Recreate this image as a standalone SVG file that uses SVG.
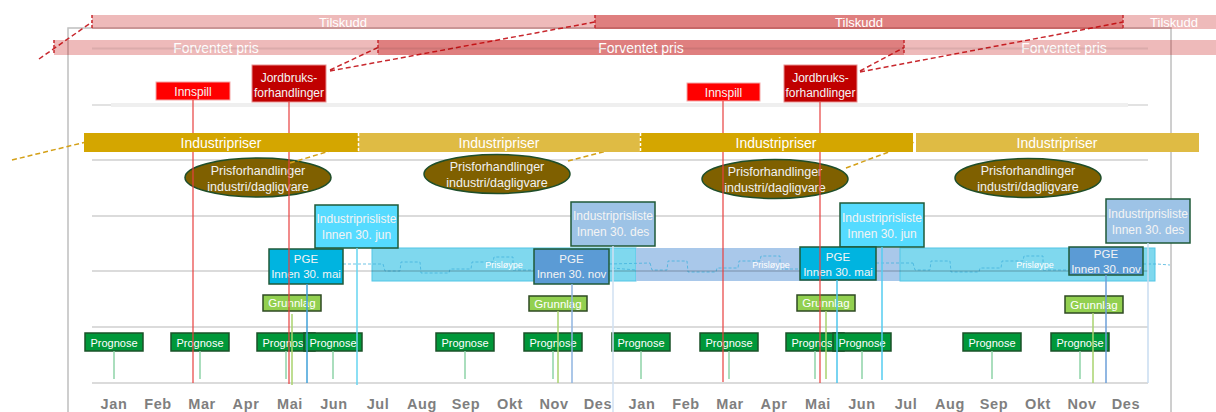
<svg xmlns="http://www.w3.org/2000/svg" width="1216" height="412" viewBox="0 0 1216 412">
<defs>
<style>
text{font-family:"Liberation Sans",Arial,sans-serif;text-anchor:middle}
.bar-l{fill:#c00000;fill-opacity:0.27}
.bar-d{fill:#c00000;fill-opacity:0.5}
.bt{fill:#fff;font-size:13px}
.bt14{fill:#fff;font-size:14px}
.ip-d{fill:#d4a600}
.ip-l{fill:#dfbb44}
.tick-r{stroke:#c8282e;stroke-width:1.5;stroke-dasharray:3,2;fill:none}
.tick-w{stroke:#fff;stroke-width:1.5;stroke-dasharray:3,2;fill:none}
.grid{stroke:#000;stroke-opacity:0.14;stroke-width:2;fill:none}
.ell{fill:#7f6000;stroke:#1f4e29;stroke-width:1.5}
.et{fill:#f2f2f2;font-size:12.5px}
.ipl-c{fill:#55dbff;stroke:#1f5a38;stroke-width:1.5}
.ipl-b{fill:#9dc3e6;stroke:#1f5a38;stroke-width:1.5}
.pge-c{fill:#00b4e0;stroke:#1f5a38;stroke-width:1.5}
.pge-b{fill:#5b9bd5;stroke:#1f5a38;stroke-width:1.5}
.wt{fill:#f4f4f4;font-size:12px}
.wt11{fill:#f4f4f4;font-size:11.5px}
.band-c{fill:#7fd8ee;stroke:#52c6e6;stroke-width:1}
.band-b{fill:#a9c8ea}
.loop{fill:none;stroke:#3fb0dc;stroke-opacity:0.75;stroke-width:1;stroke-dasharray:3,2}
.lt{fill:#fff;font-size:9px}
.grn{fill:#92d050;stroke:#2e4a22;stroke-width:1.5}
.prg{fill:#00983a;stroke:#1a5228;stroke-width:1.5}
.gt{fill:#fff;font-size:11.5px}
.pt{fill:#fff;font-size:11px}
.dash-r{stroke:#c8282e;stroke-width:1.5;stroke-dasharray:5,3;fill:none}
.dash-g{stroke:#d4a017;stroke-width:1.5;stroke-dasharray:5,3;fill:none}
.vr{stroke:#e8403f;stroke-width:1.2}
.vg{stroke:#a9d46f;stroke-width:1.5}
.vp{stroke:#8fd4a8;stroke-width:1.5}
.mon{fill:#7f7f7f;font-size:14.5px;font-weight:bold;letter-spacing:0.6px}
</style>
<path id="step" d="M0,0 L2,7 L17,7 L18,-2 L37,-2 L38,9 L66,9 L67,5 L88,5 L89,-2 L110,-2 L111,-7 L130,-7 L130,0"/>
</defs>

<rect x="68" y="28" width="1103" height="400" fill="none" stroke="#bfbfbf" stroke-width="1.5"/>

<g id="prislope-1">
<rect class="band-c" x="372" y="248" width="264" height="33"/>
<path class="loop" d="M343,264 L383,264"/>
<use href="#step" class="loop" x="383" y="264"/>
<path class="loop" d="M513,270 L534,270"/>
<text class="lt" x="504" y="268">Prisløype</text>
</g>
<g id="prislope-2">
<rect class="band-b" x="636" y="248" width="264" height="33"/>
<path class="loop" d="M609,264 L650,263 M612,268 L636,270"/>
<use href="#step" class="loop" x="650" y="263"/>
<path class="loop" d="M780,269 L800,269"/>
<text class="lt" x="771" y="268">Prisløype</text>
</g>
<g id="prislope-3">
<rect class="band-c" x="900" y="248" width="255" height="33"/>
<path class="loop" d="M876,263 L913,263"/>
<use href="#step" class="loop" x="913" y="263"/>
<path class="loop" d="M1043,270 L1069,270 M1143,264 L1157,264 L1170,265"/>
<text class="lt" x="1035" y="268">Prisløype</text>
</g>

<g id="grid">
<path class="grid" d="M92,160 H1148 M92,216 H1148 M92,271 H1148 M92,327 H1148 M92,383 H1148"/>
<path d="M92,105 H1148" stroke="#d9d9d9" stroke-width="1.5"/>
<path d="M111,105 H1128" stroke="#efefef" stroke-width="4"/>
</g>

<g id="prisforhandlinger-1"><ellipse class="ell" cx="258" cy="177.5" rx="73" ry="19.5"/><text class="et" x="258" y="174.5">Prisforhandlinger</text><text class="et" x="258" y="190.5">industri/dagligvare</text></g>
<g id="prisforhandlinger-2"><ellipse class="ell" cx="497" cy="174" rx="73" ry="19.5"/><text class="et" x="497" y="171">Prisforhandlinger</text><text class="et" x="497" y="187">industri/dagligvare</text></g>
<g id="prisforhandlinger-3"><ellipse class="ell" cx="775" cy="179" rx="73" ry="19.5"/><text class="et" x="775" y="176">Prisforhandlinger</text><text class="et" x="775" y="192">industri/dagligvare</text></g>
<g id="prisforhandlinger-4"><ellipse class="ell" cx="1028" cy="178" rx="73" ry="19.5"/><text class="et" x="1028" y="175">Prisforhandlinger</text><text class="et" x="1028" y="191">industri/dagligvare</text></g>

<g id="industriprisliste-1"><rect class="ipl-c" x="315" y="205" width="83" height="43"/><text class="wt" x="356.5" y="223">Industriprisliste</text><text class="wt" x="356.5" y="239">Innen 30. jun</text></g>
<g id="industriprisliste-2"><rect class="ipl-b" x="571" y="202" width="84" height="44"/><text class="wt" x="613" y="220">Industriprisliste</text><text class="wt" x="613" y="236">Innen 30. des</text></g>
<g id="industriprisliste-3"><rect class="ipl-c" x="840" y="203" width="84" height="44"/><text class="wt" x="882" y="222">Industriprisliste</text><text class="wt" x="882" y="238">Innen 30. jun</text></g>
<g id="industriprisliste-4"><rect class="ipl-b" x="1106" y="199" width="84" height="44"/><text class="wt" x="1148" y="218">Industriprisliste</text><text class="wt" x="1148" y="234">Innen 30. des</text></g>

<g id="pge-1"><rect class="pge-c" x="269" y="249" width="74" height="35"/><text class="wt11" x="306" y="263">PGE</text><text class="wt11" x="306" y="278">Innen 30. mai</text></g>
<g id="pge-2"><rect class="pge-b" x="534" y="249" width="75" height="35"/><text class="wt11" x="571.5" y="263">PGE</text><text class="wt11" x="571.5" y="278">Innen 30. nov</text></g>
<g id="pge-3"><rect class="pge-c" x="800" y="247" width="76" height="33"/><text class="wt11" x="838" y="261">PGE</text><text class="wt11" x="838" y="276">Innen 30. mai</text></g>
<g id="pge-4"><rect class="pge-b" x="1069" y="247" width="74" height="28"/><text class="wt11" x="1106" y="258">PGE</text><text class="wt11" x="1106" y="273">Innen 30. nov</text></g>

<g id="grunnlag-1"><rect class="grn" x="263" y="295" width="58" height="16"/><text class="gt" x="292" y="307">Grunnlag</text></g>
<g id="grunnlag-2"><rect class="grn" x="529" y="296" width="58" height="15"/><text class="gt" x="558" y="307.5">Grunnlag</text></g>
<g id="grunnlag-3"><rect class="grn" x="797" y="295" width="58" height="16"/><text class="gt" x="826" y="307">Grunnlag</text></g>
<g id="grunnlag-4"><rect class="grn" x="1065" y="296" width="58" height="17"/><text class="gt" x="1094" y="308.5">Grunnlag</text></g>

<g id="prognose-1"><rect class="prg" x="85" y="333" width="58" height="18"/><text class="pt" x="114" y="346.5">Prognose</text></g>
<g id="prognose-2"><rect class="prg" x="171" y="333" width="58" height="18"/><text class="pt" x="200" y="346.5">Prognose</text></g>
<g id="prognose-3"><rect class="prg" x="257" y="333" width="58" height="18"/><text class="pt" x="286" y="346.5">Prognose</text></g>
<g id="prognose-4"><rect class="prg" x="304" y="333" width="58" height="18"/><text class="pt" x="333" y="346.5">Prognose</text></g>
<g id="prognose-5"><rect class="prg" x="436" y="333" width="58" height="18"/><text class="pt" x="465" y="346.5">Prognose</text></g>
<g id="prognose-6"><rect class="prg" x="524" y="333" width="58" height="18"/><text class="pt" x="553" y="346.5">Prognose</text></g>
<g id="prognose-7"><rect class="prg" x="612" y="333" width="58" height="18"/><text class="pt" x="641" y="346.5">Prognose</text></g>
<g id="prognose-8"><rect class="prg" x="700" y="333" width="58" height="18"/><text class="pt" x="729" y="346.5">Prognose</text></g>
<g id="prognose-9"><rect class="prg" x="786" y="333" width="58" height="18"/><text class="pt" x="815" y="346.5">Prognose</text></g>
<g id="prognose-10"><rect class="prg" x="833" y="333" width="58" height="18"/><text class="pt" x="862" y="346.5">Prognose</text></g>
<g id="prognose-11"><rect class="prg" x="963" y="333" width="58" height="18"/><text class="pt" x="992" y="346.5">Prognose</text></g>
<g id="prognose-12"><rect class="prg" x="1051" y="333" width="58" height="18"/><text class="pt" x="1080" y="346.5">Prognose</text></g>

<g id="innspill-1"><rect x="156" y="82" width="74" height="18" fill="#ff0000" stroke="#f4a8a8" stroke-width="1"/><text class="wt" x="193" y="95.5">Innspill</text></g>
<g id="jordbruk-1"><rect x="252" y="65" width="74" height="37" fill="#c00000" stroke="#e89090" stroke-width="1"/><text class="wt" x="289" y="82">Jordbruks-</text><text class="wt" x="289" y="96.5">forhandlinger</text></g>
<g id="innspill-2"><rect x="687" y="83" width="73" height="18" fill="#ff0000" stroke="#f4a8a8" stroke-width="1"/><text class="wt" x="723.5" y="96.5">Innspill</text></g>
<g id="jordbruk-2"><rect x="784" y="65" width="73" height="37" fill="#c00000" stroke="#e89090" stroke-width="1"/><text class="wt" x="820.5" y="82">Jordbruks-</text><text class="wt" x="820.5" y="96.5">forhandlinger</text></g>

<g id="connectors">
<path class="dash-r" d="M39,59 L92,22 M330,70 L378,47.5 M330,71 L595,22 M860,71 L904,47.5 M860,72 L1123,22"/>
<path class="dash-g" d="M12,160 L84,142.5 M290,163 L358,142.5 M568,161 L640,142.5 M846,168 L914,142.5"/>
<path class="vr" d="M193,100 V133 M193,152 V383 M289,102 V133 M289,152 V384 M723,101 V133 M723,152 V382 M820,102 V133 M820,152 V383"/>
<path d="M307,284 V383" stroke="#3fa0d8" stroke-width="1.5"/>
<path d="M357,248 V385" stroke="#66d4f0" stroke-width="1.5"/>
<path d="M572,284 V383" stroke="#8fb5e0" stroke-width="1.5"/>
<path d="M613,246 V412" stroke="#d0e0f2" stroke-width="1.5"/>
<path d="M837,280 V383" stroke="#4cc6ec" stroke-width="1.5"/>
<path d="M882,247 V380" stroke="#55cdf0" stroke-width="1.5"/>
<path d="M1106,275 V383" stroke="#6d9fd8" stroke-width="1.5"/>
<path d="M1148,243 V383" stroke="#c8dcf0" stroke-width="1.5"/>
<path class="vg" d="M292,314 V385 M558,311 V383 M826,311 V379 M1093,313 V383"/>
<path class="vp" d="M114,351 V379 M200,351 V379 M286,351 V379 M333,351 V379 M465,351 V379 M553,351 V379 M641,351 V379 M729,351 V379 M815,351 V379 M862,351 V379 M992,351 V379 M1080,351 V379"/>
</g>

<g id="tilskudd-1"><rect class="bar-l" x="92" y="15" width="503" height="14"/><path class="tick-r" d="M92,15 V29"/><text class="bt" x="343" y="26.5">Tilskudd</text></g>
<g id="tilskudd-2"><rect class="bar-d" x="595" y="15" width="528" height="14"/><path class="tick-r" d="M595,15 V29"/><text class="bt" x="859" y="26.5">Tilskudd</text></g>
<g id="tilskudd-3"><rect class="bar-l" x="1123" y="15" width="100" height="14"/><path class="tick-r" d="M1123,15 V29"/><text class="bt" x="1174" y="26.5">Tilskudd</text></g>

<g id="forventet-1"><rect class="bar-l" x="54" y="40" width="324" height="15"/><path class="tick-r" d="M54,40 V55"/><text class="bt14" x="216" y="52.5">Forventet pris</text></g>
<g id="forventet-2"><rect class="bar-d" x="378" y="40" width="526" height="15"/><path class="tick-r" d="M378,40 V55"/><text class="bt14" x="641" y="52.5">Forventet pris</text></g>
<g id="forventet-3"><rect class="bar-l" x="904" y="40" width="320" height="15"/><path class="tick-r" d="M904,40 V55"/><text class="bt14" x="1064" y="52.5">Forventet pris</text></g>
<path d="M92,48.5 H1148" stroke="#000" stroke-opacity="0.08" stroke-width="2"/>

<g id="industripriser-1"><rect class="ip-d" x="84" y="133" width="274" height="19"/><text class="bt14" x="221" y="147.5">Industripriser</text></g>
<g id="industripriser-2"><rect class="ip-l" x="358" y="133" width="282" height="19"/><path class="tick-w" d="M358.5,133 V152"/><text class="bt14" x="499" y="147.5">Industripriser</text></g>
<g id="industripriser-3"><rect class="ip-d" x="640" y="133" width="273" height="19"/><path class="tick-w" d="M640.5,133 V152"/><text class="bt14" x="776" y="147.5">Industripriser</text></g>
<g id="industripriser-4"><rect class="ip-l" x="916" y="133" width="283" height="19"/><path class="tick-w" d="M914.5,133 V152"/><text class="bt14" x="1057" y="147.5">Industripriser</text></g>

<g id="months">
<text class="mon" x="114" y="409">Jan</text><text class="mon" x="158" y="409">Feb</text><text class="mon" x="202" y="409">Mar</text><text class="mon" x="246" y="409">Apr</text><text class="mon" x="290" y="409">Mai</text><text class="mon" x="334" y="409">Jun</text><text class="mon" x="378" y="409">Jul</text><text class="mon" x="422" y="409">Aug</text><text class="mon" x="466" y="409">Sep</text><text class="mon" x="510" y="409">Okt</text><text class="mon" x="554" y="409">Nov</text><text class="mon" x="598" y="409">Des</text>
<text class="mon" x="642" y="409">Jan</text><text class="mon" x="686" y="409">Feb</text><text class="mon" x="730" y="409">Mar</text><text class="mon" x="774" y="409">Apr</text><text class="mon" x="818" y="409">Mai</text><text class="mon" x="862" y="409">Jun</text><text class="mon" x="906" y="409">Jul</text><text class="mon" x="950" y="409">Aug</text><text class="mon" x="994" y="409">Sep</text><text class="mon" x="1038" y="409">Okt</text><text class="mon" x="1082" y="409">Nov</text><text class="mon" x="1126" y="409">Des</text>
</g>
</svg>
